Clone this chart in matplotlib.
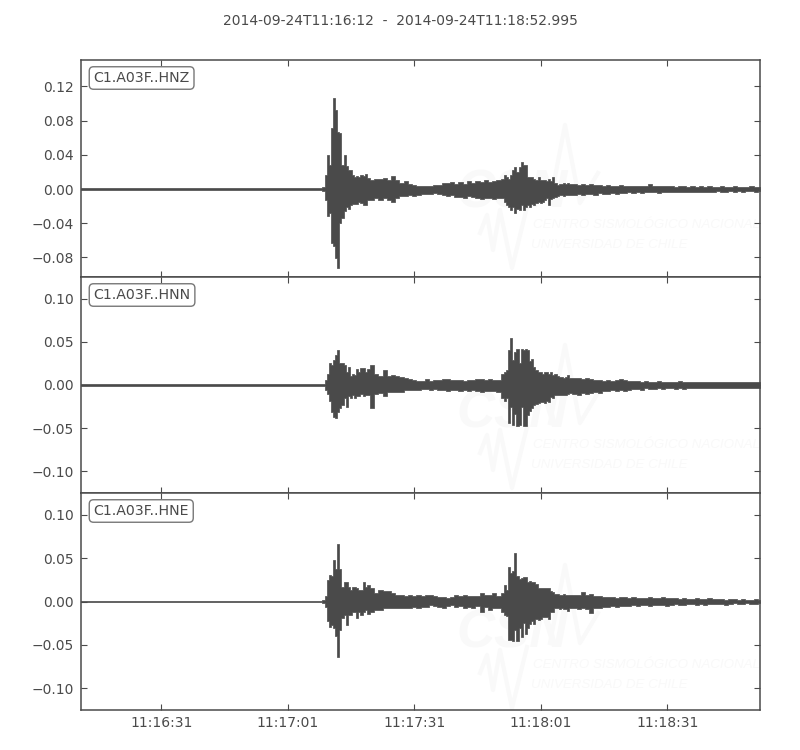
#!/usr/bin/python
"""Plot three component accelerogram of station C1.A03F."""

import matplotlib.pyplot as plt
from matplotlib.transforms import Affine2D

# seconds since 11:16:12
TIME = [
    0, 57,
    57.5, 58, 58.5, 59, 59.5, 60, 60.5, 61, 61.5, 62, 62.5,
    63, 63.5, 64, 64.5, 65, 65.5, 66, 66.5, 67, 67.5, 68,
    69, 70, 71, 72, 73, 74, 75, 76, 77, 78, 79, 80, 81, 82, 83, 84,
    85, 86, 87, 88, 89, 90, 91, 92, 93, 94, 95, 96, 97, 98, 99,
    100, 100.5, 101, 101.5, 102, 102.5, 103, 103.5,
    104, 104.5, 105, 105.5, 106, 106.5, 107, 107.5, 108, 108.5, 109, 109.5, 110,
    110.5, 111, 111.5, 112, 112.5, 113, 113.5, 114, 114.5, 115, 115.5, 116,
    117, 118, 119, 120, 121, 122, 123, 124, 125, 126,
    127, 128, 129, 130, 131, 132, 133, 134, 135, 136,
    137, 138, 139, 140, 141, 142, 143, 144, 145, 146,
    147, 148, 149, 150, 151, 152, 153, 154, 155, 156,
    157, 158, 159, 160, 161]

# upper and lower envelope of each trace
HNZ_TOP = [
    .0006, .0006,
    .002, .016, .040, .028, .071, .106, .092, .067, .065, .028, .040,
    .027, .022, .022, .016, .014, .015, .014, .016, .015, .017, .013,
    .011, .012, .012, .013, .010, .015, .010, .007, .009, .006, .005, .004, .004, .004, .004, .005,
    .005, .007, .007, .008, .006, .008, .006, .009, .007, .009, .008, .010, .008, .009, .010,
    .012, .016, .014, .012, .016, .022, .026, .020,
    .026, .031, .028, .028, .014, .014, .014, .012, .011, .014, .011, .011, .011,
    .009, .012, .009, .014, .007, .005, .006, .006, .007, .006, .007, .006,
    .006, .005, .006, .005, .006, .005, .005, .004, .005, .004,
    .004, .005, .004, .004, .003, .004, .003, .004, .006, .003,
    .003, .004, .003, .003, .002, .003, .003, .002, .003, .002,
    .003, .002, .003, .002, .002, .003, .002, .002, .003, .002,
    .002, .002, .003, .002, .002]
HNZ_BOT = [
    -.0006, -.0006,
    -.002, -.013, -.031, -.028, -.063, -.067, -.081, -.092, -.040, -.034, -.026,
    -.021, -.023, -.019, -.017, -.017, -.017, -.015, -.016, -.019, -.019, -.013,
    -.013, -.011, -.013, -.010, -.013, -.015, -.011, -.008, -.008, -.007, -.008, -.007, -.006, -.006, -.006, -.005,
    -.006, -.007, -.008, -.007, -.009, -.009, -.010, -.008, -.009, -.011, -.012, -.010, -.010, -.012, -.011,
    -.011, -.015, -.019, -.021, -.025, -.021, -.028, -.023,
    -.025, -.019, -.025, -.021, -.019, -.021, -.017, -.019, -.016, -.015, -.016, -.015, -.013,
    -.011, -.019, -.012, -.010, -.009, -.008, -.007, -.007, -.008, -.007, -.007, -.007,
    -.007, -.006, -.007, -.006, -.006, -.007, -.005, -.006, -.006, -.005,
    -.006, -.005, -.005, -.004, -.005, -.004, -.005, -.004, -.004, -.004,
    -.005, -.004, -.003, -.004, -.004, -.003, -.004, -.003, -.003, -.004,
    -.003, -.003, -.004, -.003, -.002, -.003, -.003, -.002, -.003, -.002,
    -.003, -.002, -.002, -.003, -.002]

HNN_TOP = [
    .0006, .0006,
    .001, .006, .013, .025, .023, .029, .035, .040, .025, .025, .023,
    .015, .021, .010, .013, .012, .019, .015, .020, .020, .015, .018,
    .023, .013, .010, .017, .010, .012, .010, .009, .008, .007, .006, .005, .005, .007, .005, .006,
    .006, .007, .007, .006, .006, .006, .005, .006, .006, .007, .007, .006, .007, .006, .006,
    .013, .015, .017, .040, .054, .029, .038, .042,
    .025, .042, .040, .042, .040, .028, .030, .021, .017, .015, .015, .013, .015,
    .015, .013, .015, .012, .013, .010, .009, .009, .008, .009, .011, .008,
    .008, .008, .007, .008, .007, .006, .006, .005, .006, .005,
    .006, .007, .006, .005, .005, .005, .004, .005, .004, .004,
    .005, .004, .004, .004, .004, .005, .004, .003, .004, .004,
    .003, .004, .003, .004, .003, .003, .004, .003, .003, .003,
    .003, .004, .003, .003, .003]
HNN_BOT = [
    -.0006, -.0006,
    -.001, -.006, -.010, -.019, -.031, -.037, -.038, -.031, -.027, -.023, -.015,
    -.025, -.013, -.015, -.012, -.015, -.013, -.013, -.010, -.013, -.012, -.012,
    -.027, -.010, -.009, -.013, -.008, -.008, -.008, -.008, -.006, -.006, -.006, -.006, -.005, -.005, -.006, -.005,
    -.006, -.006, -.007, -.006, -.006, -.007, -.006, -.007, -.006, -.007, -.008, -.007, -.007, -.007, -.008,
    -.015, -.019, -.015, -.044, -.025, -.046, -.033, -.048,
    -.046, -.025, -.048, -.048, -.035, -.030, -.027, -.023, -.022, -.021, -.020, -.020, -.021,
    -.019, -.020, -.014, -.015, -.012, -.012, -.011, -.011, -.012, -.012, -.010, -.009,
    -.010, -.011, -.009, -.010, -.009, -.008, -.009, -.007, -.007, -.006,
    -.007, -.006, -.007, -.006, -.005, -.005, -.006, -.004, -.005, -.005,
    -.004, -.005, -.004, -.004, -.005, -.004, -.005, -.004, -.003, -.004,
    -.004, -.003, -.004, -.003, -.004, -.003, -.003, -.004, -.003, -.003,
    -.003, -.003, -.004, -.003, -.003]

HNE_TOP = [
    .0006, .0006,
    .002, .006, .025, .031, .029, .048, .038, .066, .038, .017, .023,
    .023, .017, .013, .017, .017, .015, .013, .013, .022, .017, .019,
    .015, .010, .013, .012, .012, .010, .008, .008, .006, .008, .006, .008, .006, .008, .007, .006,
    .005, .005, .004, .005, .008, .006, .008, .006, .006, .006, .010, .008, .008, .010, .006,
    .010, .019, .013, .040, .033, .035, .056, .029,
    .026, .027, .028, .028, .023, .024, .023, .022, .020, .016, .016, .016, .016,
    .015, .016, .012, .011, .009, .009, .008, .008, .009, .008, .007, .008,
    .007, .008, .011, .007, .009, .006, .006, .005, .005, .005,
    .004, .005, .005, .004, .005, .004, .004, .004, .005, .004,
    .004, .005, .004, .004, .004, .003, .004, .003, .003, .004,
    .003, .003, .004, .003, .003, .003, .002, .003, .003, .002,
    .003, .002, .002, .003, .002]
HNE_BOT = [
    -.0006, -.0006,
    -.002, -.006, -.023, -.029, -.027, -.031, -.040, -.064, -.033, -.019, -.015,
    -.027, -.015, -.015, -.012, -.012, -.019, -.012, -.015, -.012, -.010, -.014,
    -.012, -.010, -.010, -.008, -.008, -.008, -.008, -.007, -.007, -.007, -.006, -.008, -.006, -.006, -.004, -.005,
    -.006, -.008, -.005, -.004, -.006, -.005, -.008, -.006, -.008, -.005, -.012, -.006, -.010, -.008, -.008,
    -.012, -.015, -.017, -.044, -.044, -.046, -.033, -.046,
    -.030, -.041, -.025, -.038, -.030, -.026, -.022, -.026, -.020, -.021, -.020, -.018, -.018,
    -.018, -.020, -.012, -.012, -.008, -.008, -.009, -.008, -.009, -.009, -.011, -.008,
    -.008, -.009, -.008, -.009, -.013, -.007, -.007, -.006, -.006, -.005,
    -.006, -.005, -.005, -.005, -.004, -.005, -.004, -.004, -.005, -.004,
    -.004, -.004, -.005, -.004, -.003, -.004, -.004, -.003, -.003, -.004,
    -.003, -.004, -.003, -.003, -.003, -.003, -.004, -.003, -.002, -.003,
    -.003, -.002, -.003, -.003, -.002]

TRACES = ['C1.A03F..HNZ', 'C1.A03F..HNN', 'C1.A03F..HNE']
TITLE = '2014-09-24T11:16:12  -  2014-09-24T11:18:52.995'
XTICKS = [19, 49, 79, 109, 139]
XLABELS = ['11:16:31', '11:17:01', '11:17:31', '11:18:01', '11:18:31']
DARK = '#4a4a4a'
FAINT = '#f9f9f9'

# watermark logo strokes in figure pixels, for the top panel
WAVE_BIG_X = [550, 565, 580, 598]
WAVE_BIG_Y = [203, 125, 203, 173]
WAVE_SMALL_X = [480, 487, 493, 500, 512, 527]
WAVE_SMALL_Y = [233, 215, 250, 210, 268, 207]


def watermark(ax, flip, dy):
    """Draw the faint logo behind a trace, shifted down by dy pixels."""
    shifted = Affine2D().translate(0, dy) + flip
    ax.plot(WAVE_BIG_X, WAVE_BIG_Y, color=FAINT, lw=3, transform=shifted, zorder=0)
    ax.plot(WAVE_SMALL_X, WAVE_SMALL_Y, color=FAINT, lw=3, transform=shifted, zorder=0)
    common = dict(transform=shifted, color=FAINT, family='Liberation Sans',
                  style='italic', va='baseline', zorder=0, clip_on=True)
    ax.text(456, 208, 'CSN', size=38, weight='bold', **common)
    ax.text(533, 228, 'CENTRO SISMOLÓGICO NACIONAL', size=9.6, **common)
    ax.text(531, 248, 'UNIVERSIDAD DE CHILE', size=9.6, **common)


def main():
    """Main program called during execution."""

    # initialize figure
    fig = plt.figure(figsize=(8, 7.5), dpi=100)
    fig.text(0.5, 1 - 21/750, TITLE, color=DARK, size=10, ha='center', va='center')

    # figure pixels counted from the top left corner
    flip = Affine2D().scale(1, -1).translate(0, 750)

    # panel bounds in pixels
    bounds = [(60, 277), (277, 493), (493, 710)]
    ylims = [(-.1028, .1507), (-.125, .125), (-.125, .125)]
    yticks = [
        [-.08, -.04, 0, .04, .08, .12],
        [-.10, -.05, 0, .05, .10],
        [-.10, -.05, 0, .05, .10]]
    tops = [HNZ_TOP, HNN_TOP, HNE_TOP]
    bots = [HNZ_BOT, HNN_BOT, HNE_BOT]
    shifts = [0, 220, 440]

    for i, name in enumerate(TRACES):
        upper, lower = bounds[i]
        ax = fig.add_axes([81/800, 1 - lower/750, 679/800, (lower - upper)/750])

        # plot watermark and trace envelope
        watermark(ax, flip, shifts[i])
        ax.fill_between(TIME, bots[i], tops[i], color=DARK, lw=0.5,
                        step='mid', zorder=2)

        # set axes properties
        ax.set_xlim(0, 160.995)
        ax.set_ylim(*ylims[i])
        ax.set_xticks(XTICKS)
        ax.set_xticklabels(XLABELS if i == 2 else [])
        ax.set_yticks(yticks[i])
        ax.set_yticklabels([
            f'{t:.2f}'.replace('-', '\u2212') for t in yticks[i]])
        ax.tick_params(direction='in', top=True, right=True, length=4, width=0.8,
                       color=DARK, labelcolor=DARK, labelsize=10)
        ax.tick_params(axis='y', pad=5)
        ax.tick_params(axis='x', pad=4.5)
        for spine in ax.spines.values():
            spine.set_color(DARK)
            spine.set_linewidth(1.1)

        # add station label
        ax.text(93.5, upper + 18, name, transform=flip, color=DARK, size=10.2,
                va='center', zorder=5,
                bbox=dict(boxstyle='round,pad=0.3', fc='white', ec='#777777', lw=1))

    # save figure
    fig.savefig('out.png', dpi=100)


if __name__ == '__main__':
    main()
